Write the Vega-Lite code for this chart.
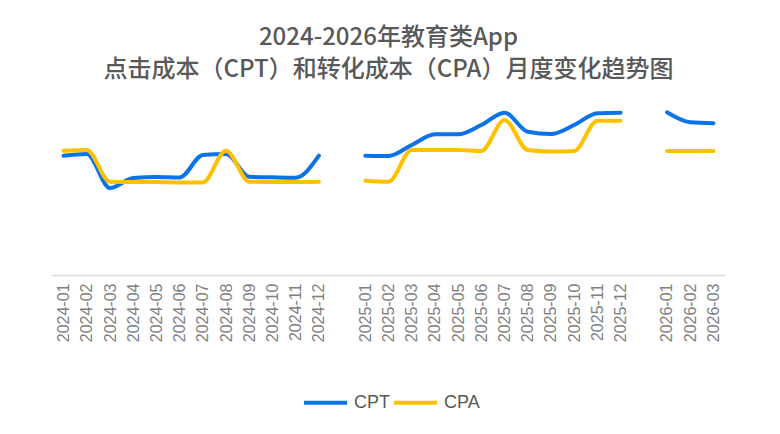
{
  "$schema": "https://vega.github.io/schema/vega-lite/v6.json",
  "autosize": "none",
  "width": 673,
  "height": 180,
  "padding": {"left": 52, "top": 95, "right": 55, "bottom": 159},
  "background": "white",
  "config": {"view": {"stroke": null}},
  "title": {
    "text": ["2024-2026年教育类App", "点击成本（CPT）和转化成本（CPA）月度变化趋势图"],
    "font": "Noto Sans CJK SC",
    "fontSize": 24,
    "fontWeight": 500,
    "color": "#595959",
    "lineHeight": 32,
    "offset": 13,
    "anchor": "middle"
  },
  "data": {
    "values": [
      {"month": "2024-01", "seg": "2024", "CPT": 119.3, "CPA": 124.3},
      {"month": "2024-02", "seg": "2024", "CPT": 121, "CPA": 125},
      {"month": "2024-03", "seg": "2024", "CPT": 87, "CPA": 93.3},
      {"month": "2024-04", "seg": "2024", "CPT": 97, "CPA": 93},
      {"month": "2024-05", "seg": "2024", "CPT": 98, "CPA": 93},
      {"month": "2024-06", "seg": "2024", "CPT": 97.5, "CPA": 92.5},
      {"month": "2024-07", "seg": "2024", "CPT": 120, "CPA": 92.5},
      {"month": "2024-08", "seg": "2024", "CPT": 121, "CPA": 124.3},
      {"month": "2024-09", "seg": "2024", "CPT": 98.3, "CPA": 93.3},
      {"month": "2024-10", "seg": "2024", "CPT": 97.7, "CPA": 93},
      {"month": "2024-11", "seg": "2024", "CPT": 97.3, "CPA": 93},
      {"month": "2024-12", "seg": "2024", "CPT": 119.3, "CPA": 93.3},
      {"month": "2025-01", "seg": "2025", "CPT": 119.3, "CPA": 94.3},
      {"month": "2025-02", "seg": "2025", "CPT": 119, "CPA": 93.3},
      {"month": "2025-03", "seg": "2025", "CPT": 130, "CPA": 125},
      {"month": "2025-04", "seg": "2025", "CPT": 140.7, "CPA": 125},
      {"month": "2025-05", "seg": "2025", "CPT": 140.7, "CPA": 125},
      {"month": "2025-06", "seg": "2025", "CPT": 150, "CPA": 124},
      {"month": "2025-07", "seg": "2025", "CPT": 162.3, "CPA": 155},
      {"month": "2025-08", "seg": "2025", "CPT": 143.3, "CPA": 125},
      {"month": "2025-09", "seg": "2025", "CPT": 141, "CPA": 123.5},
      {"month": "2025-10", "seg": "2025", "CPT": 150, "CPA": 124},
      {"month": "2025-11", "seg": "2025", "CPT": 161.7, "CPA": 154.3},
      {"month": "2025-12", "seg": "2025", "CPT": 162.3, "CPA": 154.3},
      {"month": "2026-01", "seg": "2026", "CPT": 162.7, "CPA": 124},
      {"month": "2026-02", "seg": "2026", "CPT": 152.7, "CPA": 124},
      {"month": "2026-03", "seg": "2026", "CPT": 151.7, "CPA": 124}
    ]
  },
  "transform": [{"fold": ["CPT", "CPA"], "as": ["series", "value"]}],
  "mark": {
    "type": "line",
    "interpolate": "monotone",
    "strokeWidth": 4,
    "strokeCap": "round",
    "strokeJoin": "round"
  },
  "encoding": {
    "x": {
      "field": "month",
      "type": "ordinal",
      "scale": {
        "domain": [
          "2024-01", "2024-02", "2024-03", "2024-04", "2024-05", "2024-06",
          "2024-07", "2024-08", "2024-09", "2024-10", "2024-11", "2024-12",
          "gap1",
          "2025-01", "2025-02", "2025-03", "2025-04", "2025-05", "2025-06",
          "2025-07", "2025-08", "2025-09", "2025-10", "2025-11", "2025-12",
          "gap2",
          "2026-01", "2026-02", "2026-03"
        ],
        "padding": 0.5
      },
      "axis": {
        "title": null,
        "labelAngle": -90,
        "labelFont": "Liberation Sans",
        "labelFontSize": 16,
        "labelColor": "#7f7f7f",
        "labelPadding": 8,
        "ticks": false,
        "grid": false,
        "domainColor": "#d9d9d9",
        "domainWidth": 1.5,
        "labelExpr": "indexof(datum.value, 'gap') >= 0 ? '' : datum.value"
      }
    },
    "y": {
      "field": "value",
      "type": "quantitative",
      "scale": {"domain": [0, 180]},
      "axis": null
    },
    "detail": {"field": "seg"},
    "color": {
      "field": "series",
      "type": "nominal",
      "scale": {"domain": ["CPT", "CPA"], "range": ["#0B72E7", "#FFC000"]},
      "legend": {
        "title": null,
        "orient": "none",
        "direction": "horizontal",
        "legendX": 250,
        "legendY": 284,
        "symbolType": "stroke",
        "symbolSize": 1849,
        "symbolStrokeWidth": 4,
        "labelFont": "Liberation Sans",
        "labelFontSize": 18,
        "labelColor": "#595959",
        "labelOffset": 5,
        "columnPadding": -4
      }
    }
  }
}
